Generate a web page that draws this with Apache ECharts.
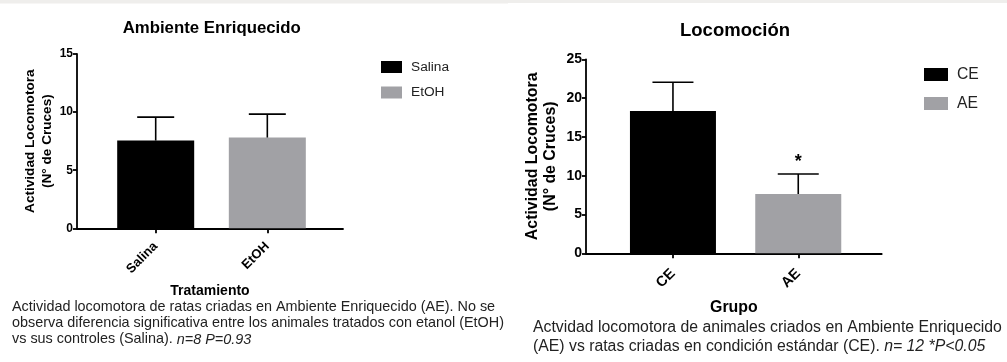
<!DOCTYPE html>
<html>
<head>
<meta charset="utf-8">
<script src="https://cdn.jsdelivr.net/npm/echarts@6/dist/echarts.min.js"></script>
<style>
html,body{margin:0;padding:0;background:#fff;}
#c{width:1007px;height:362px;}
</style>
</head>
<body>
<div id="c"></div>
<script>
// ---- Data ----
const leftCategories = ['Salina', 'EtOH'];
const leftMeans = [7.55, 7.81];
const leftErrors = [2.02, 2.02];
const leftSig = ['', ''];
const leftTicks = [0, 5, 10, 15];

const rightCategories = ['CE', 'AE'];
const rightMeans = [18.34, 7.64];
const rightErrors = [3.70, 2.58];
const rightSig = ['', '*'];
const rightTicks = [0, 5, 10, 15, 20, 25];

const barColors = ['#000000', '#a1a1a5'];
const FONT = '"Liberation Sans", Arial, Helvetica, sans-serif';

const chart = echarts.init(document.getElementById('c'), null, {renderer: 'canvas'});

function errRender(half, sig, fontSize) {
  return function (params, api) {
    const x = api.value(0), m = api.value(1), e = api.value(2);
    const p0 = api.coord([x, m]);
    const p1 = api.coord([x, m + e]);
    const children = [
      {type: 'line', shape: {x1: p0[0], y1: p0[1], x2: p1[0], y2: p1[1]}, style: {stroke: '#000', lineWidth: 1.6}},
      {type: 'line', shape: {x1: p1[0] - half, y1: p1[1], x2: p1[0] + half, y2: p1[1]}, style: {stroke: '#000', lineWidth: 1.6}}
    ];
    const s = sig[params.dataIndex];
    if (s) {
      children.push({type: 'text', style: {text: s, x: p1[0], y: p1[1] - 3, textAlign: 'center', textVerticalAlign: 'bottom', font: 'bold ' + fontSize + 'px ' + FONT, fill: '#000'}});
    }
    return {type: 'group', children: children};
  };
}

function xAxisCfg(gridIndex, cats, min, max, fs, margin, name, nameGap, nameFs) {
  return {
    type: 'value', gridIndex: gridIndex, min: min, max: max,
    splitLine: {show: false},
    axisLine: {show: true, onZero: false, lineStyle: {color: '#000', width: 1.8}},
    axisTick: {show: true, customValues: [0, 1], length: 5, lineStyle: {color: '#000', width: 1.8}},
    axisLabel: {show: true, customValues: [0, 1], rotate: 45, margin: margin, color: '#000',
      fontFamily: FONT, fontWeight: 'bold', fontSize: fs,
      formatter: function (v) { return cats[Math.round(v)] || ''; }},
    name: name, nameLocation: 'middle', nameGap: nameGap,
    nameTextStyle: {fontFamily: FONT, fontWeight: 'bold', fontSize: nameFs, color: '#000'}
  };
}

function yAxisCfg(gridIndex, ticks, fs, nameGap, nameFs, lh) {
  return {
    type: 'value', gridIndex: gridIndex, min: ticks[0], max: ticks[ticks.length - 1], interval: ticks[1] - ticks[0],
    splitLine: {show: false},
    axisLine: {show: true, onZero: false, lineStyle: {color: '#000', width: 1.8}},
    axisTick: {show: true, length: 4, lineStyle: {color: '#000', width: 1.8}},
    axisLabel: {color: '#000', fontFamily: FONT, fontWeight: 'bold', fontSize: fs, margin: 4},
    name: 'Actividad Locomotora\n(N° de Cruces)', nameLocation: 'middle', nameRotate: 90, nameGap: nameGap,
    nameTextStyle: {fontFamily: FONT, fontWeight: 'bold', fontSize: nameFs, color: '#000', lineHeight: lh, align: 'center'}
  };
}

const option = {
  animation: false,
  backgroundColor: '#ffffff',
  textStyle: {fontFamily: FONT},
  title: [
    {text: 'Ambiente Enriquecido', left: 211.7, top: 20, textAlign: 'center', padding: 0,
      textStyle: {fontFamily: FONT, fontWeight: 'bold', fontSize: 16.8, color: '#000'}},
    {text: 'Locomoción', left: 735, top: 21, textAlign: 'center', padding: 0,
      textStyle: {fontFamily: FONT, fontWeight: 'bold', fontSize: 18.5, color: '#000'}}
  ],
  legend: [
    {data: leftCategories, left: 381, top: 60, orient: 'vertical', icon: 'rect',
      itemWidth: 21, itemHeight: 12, itemGap: 11.5, padding: 0,
      textStyle: {fontFamily: FONT, fontSize: 13.7, color: '#222', padding: [0, 0, 0, 4]}},
    {data: rightCategories, left: 924, top: 66.5, orient: 'vertical', icon: 'rect',
      itemWidth: 24, itemHeight: 13, itemGap: 13, padding: 0,
      textStyle: {fontFamily: FONT, fontSize: 15.7, color: '#222', padding: [0, 0, 0, 4]}}
  ],
  grid: [
    {left: 77, right: 1007 - 343, top: 54, height: 174.3},
    {left: 586, right: 1007 - 881.7, top: 59.3, height: 194}
  ],
  xAxis: [
    xAxisCfg(0, leftCategories, -0.705, 1.678, 13, 16, 'Tratamiento', 56, 14),
    xAxisCfg(1, rightCategories, -0.694, 1.666, 14.5, 18, 'Grupo', 46, 15.9)
  ],
  yAxis: [
    yAxisCfg(0, leftTicks, 12, 22, 13.6, 16.5),
    yAxisCfg(1, rightTicks, 14, 27, 15.9, 17.5)
  ],
  series: [
    {name: leftCategories[0], type: 'bar', xAxisIndex: 0, yAxisIndex: 0, barWidth: 77, barGap: '-100%',
      itemStyle: {color: barColors[0]}, data: [[0, leftMeans[0]]]},
    {name: leftCategories[1], type: 'bar', xAxisIndex: 0, yAxisIndex: 0, barWidth: 77, barGap: '-100%',
      itemStyle: {color: barColors[1]}, data: [[1, leftMeans[1]]]},
    {type: 'custom', xAxisIndex: 0, yAxisIndex: 0, z: 5, renderItem: errRender(18.5, leftSig, 16),
      encode: {x: 0, y: 1}, data: leftMeans.map((m, i) => [i, m, leftErrors[i]])},
    {name: rightCategories[0], type: 'bar', xAxisIndex: 1, yAxisIndex: 1, barWidth: 86, barGap: '-100%',
      itemStyle: {color: barColors[0]}, data: [[0, rightMeans[0]]]},
    {name: rightCategories[1], type: 'bar', xAxisIndex: 1, yAxisIndex: 1, barWidth: 86, barGap: '-100%',
      itemStyle: {color: barColors[1]}, data: [[1, rightMeans[1]]]},
    {type: 'custom', xAxisIndex: 1, yAxisIndex: 1, z: 5, renderItem: errRender(20.5, rightSig, 18),
      encode: {x: 0, y: 1}, data: rightMeans.map((m, i) => [i, m, rightErrors[i]])}
  ],
  graphic: [
    {type: 'rect', left: 0, top: 0, shape: {width: 508, height: 3.5}, style: {fill: '#efeeec'}, silent: true},
    {type: 'rect', left: 508, top: 0, shape: {width: 499, height: 3}, style: {fill: '#efeeec'}, silent: true},
    {type: 'text', left: 12, top: 298.5, silent: true, style: {
      text: 'Actividad locomotora de ratas criadas en Ambiente Enriquecido (AE). No se\nobserva diferencia significativa entre los animales tratados con etanol (EtOH)\nvs sus controles (Salina). {i|n=8 P=0.93}',
      font: '14.4px ' + FONT, fill: '#222', lineHeight: 16.4,
      rich: {i: {fontStyle: 'italic', fontFamily: FONT, fontSize: 14.4, fill: '#222', lineHeight: 16.4}}}},
    {type: 'text', left: 533, top: 317.5, silent: true, style: {
      text: 'Actvidad locomotora de animales criados en Ambiente Enriquecido\n(AE) vs ratas criadas en condición estándar (CE). {i|n= 12 *P<0.05}',
      font: '15.8px ' + FONT, fill: '#222', lineHeight: 19.5,
      rich: {i: {fontStyle: 'italic', fontFamily: FONT, fontSize: 15.8, fill: '#222', lineHeight: 19.5}}}}
  ]
};
chart.setOption(option);
</script>
</body>
</html>
